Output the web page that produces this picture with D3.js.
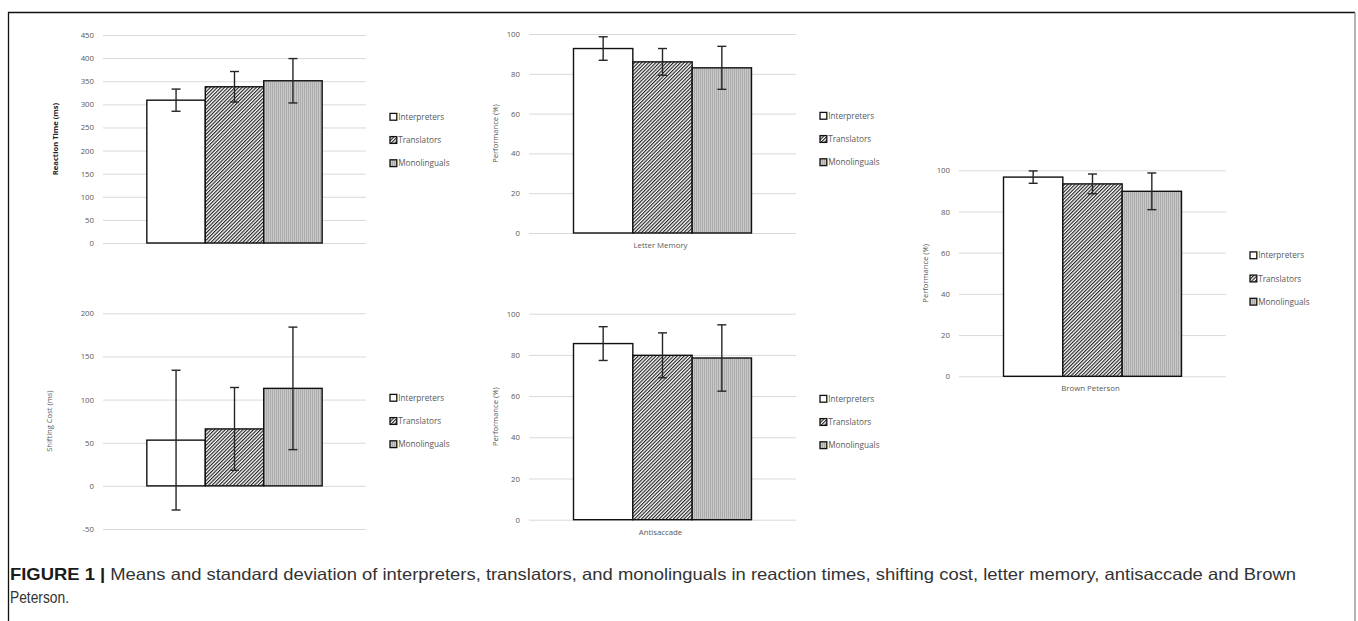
<!DOCTYPE html>
<html>
<head>
<meta charset="utf-8">
<script src="https://cdn.jsdelivr.net/npm/d3@7"></script>
<style>
  html, body { margin: 0; padding: 0; background: #fff; }
  svg { display: block; }
</style>
</head>
<body>
<svg id="chart" width="1358" height="621"></svg>
<script>
// ---------- DATA ----------
const groups = ["Interpreters", "Translators", "Monolinguals"];

const reactionMeans = [309, 338, 351];
const reactionSD    = [24, 33, 48];
const reactionTicks = [0, 50, 100, 150, 200, 250, 300, 350, 400, 450];

const shiftingMeans = [53, 66, 113];
const shiftingSD    = [81, 48, 71];
const shiftingTicks = [-50, 0, 50, 100, 150, 200];

const letterMeans = [92.7, 86.0, 83.0];
const letterSD    = [5.9, 6.7, 10.8];

const antiMeans = [85.5, 79.8, 78.5];
const antiSD    = [8.2, 10.9, 16.1];

const brownMeans = [96.7, 93.4, 89.8];
const brownSD    = [3.0, 4.8, 8.9];

const percentTicks = [0, 20, 40, 60, 80, 100];

const yTitles = ["Reaction Time (ms)", "Shifting Cost (ms)", "Performance (%)", "Performance (%)", "Performance (%)"];
const categoryLabels = ["", "", "Letter Memory", "Antisaccade", "Brown Peterson"];

const captionBold = "FIGURE 1 |";
const captionLine1 = " Means and standard deviation of interpreters, translators, and monolinguals in reaction times, shifting cost, letter memory, antisaccade and Brown";
const captionLine2 = "Peterson.";

// ---------- LAYOUT ----------
const panels = [
  { means: reactionMeans, sd: reactionSD, ticks: reactionTicks, domain: [0, 450],
    left: 103, right: 366, yTop: 35, yBottom: 243, titleX: 58, legendY: 140, titleBold: true },
  { means: shiftingMeans, sd: shiftingSD, ticks: shiftingTicks, domain: [-50, 200],
    left: 103, right: 366, yTop: 313.3, yBottom: 529, titleX: 52, legendY: 421 },
  { means: letterMeans, sd: letterSD, ticks: percentTicks, domain: [0, 100],
    left: 529, right: 796, yTop: 34, yBottom: 233, titleX: 498, legendY: 139 },
  { means: antiMeans, sd: antiSD, ticks: percentTicks, domain: [0, 100],
    left: 529, right: 796, yTop: 313.7, yBottom: 519.7, titleX: 498, legendY: 422 },
  { means: brownMeans, sd: brownSD, ticks: percentTicks, domain: [0, 100],
    left: 959, right: 1226, yTop: 170.3, yBottom: 376.3, titleX: 928, legendY: 278.5 }
];

const svg = d3.select("#chart");
const font = "'Open Sans', 'Noto Sans', sans-serif";

// ---------- PATTERNS ----------
const defs = svg.append("defs");
const hatch = defs.append("pattern")
  .attr("id", "hatch").attr("patternUnits", "userSpaceOnUse")
  .attr("width", 2.5).attr("height", 2.5)
  .attr("patternTransform", "rotate(45)");
hatch.append("rect").attr("width", 2.5).attr("height", 2.5).attr("fill", "#ffffff");
hatch.append("rect").attr("x", 0).attr("width", 1.15).attr("height", 2.5).attr("fill", "#222");

const vstripe = defs.append("pattern")
  .attr("id", "vstripe").attr("patternUnits", "userSpaceOnUse")
  .attr("width", 2).attr("height", 2);
vstripe.append("rect").attr("width", 2).attr("height", 2).attr("fill", "#c8c8c8");
vstripe.append("rect").attr("width", 1).attr("height", 2).attr("fill", "#acacac");

const fills = ["#ffffff", "url(#hatch)", "url(#vstripe)"];

// ---------- FRAME ----------
svg.append("path")
  .attr("d", "M8.5,621 L8.5,12.5 L1355,12.5")
  .attr("fill", "none").attr("stroke", "#111").attr("stroke-width", 1.3);
svg.append("line")
  .attr("x1", 1355).attr("x2", 1355).attr("y1", 12.5).attr("y2", 621)
  .attr("stroke", "#8a8a8a").attr("stroke-width", 1.3);

// ---------- PANELS ----------
panels.forEach((p, i) => {
  const g = svg.append("g");
  const y = d3.scaleLinear().domain(p.domain).range([p.yBottom, p.yTop]);
  const x = d3.scaleBand().domain(groups).range([p.left, p.right]).paddingInner(0).paddingOuter(0.75);

  // gridlines + tick labels via axis
  const axis = d3.axisLeft(y).tickValues(p.ticks).tickFormat(d => String(d))
    .tickSize(-(p.right - p.left)).tickPadding(9);
  const ag = g.append("g").attr("transform", `translate(${p.left},0)`).call(axis);
  ag.select(".domain").remove();
  ag.selectAll(".tick line").attr("stroke", "#d9d9d9").attr("stroke-width", 1);
  ag.selectAll(".tick text").attr("fill", "#595959").style("font-family", font).style("font-size", "7.8px");

  // bars
  g.selectAll("rect.bar").data(groups).enter().append("rect")
    .attr("class", "bar")
    .attr("x", d => x(d))
    .attr("width", x.bandwidth())
    .attr("y", (d, j) => Math.min(y(p.means[j]), y(0)))
    .attr("height", (d, j) => Math.abs(y(0) - y(p.means[j])))
    .attr("fill", (d, j) => fills[j])
    .attr("stroke", "#111").attr("stroke-width", 1.4);

  // error bars
  const eb = g.selectAll("g.err").data(groups).enter().append("g").attr("class", "err");
  const cx = d => x(d) + x.bandwidth() / 2;
  eb.append("line")
    .attr("x1", cx).attr("x2", cx)
    .attr("y1", (d, j) => y(p.means[j] + p.sd[j]))
    .attr("y2", (d, j) => y(p.means[j] - p.sd[j]))
    .attr("stroke", "#262626").attr("stroke-width", 1.4);
  [1, -1].forEach(s => {
    eb.append("line")
      .attr("x1", d => cx(d) - 4.5).attr("x2", d => cx(d) + 4.5)
      .attr("y1", (d, j) => y(p.means[j] + s * p.sd[j]))
      .attr("y2", (d, j) => y(p.means[j] + s * p.sd[j]))
      .attr("stroke", "#262626").attr("stroke-width", 1.4);
  });

  // y title
  const midY = (p.yTop + p.yBottom) / 2;
  g.append("text")
    .attr("transform", `translate(${p.titleX},${midY}) rotate(-90)`)
    .attr("text-anchor", "middle")
    .attr("fill", p.titleBold ? "#262626" : "#595959")
    .style("font-family", font).style("font-size", "7.6px")
    .style("font-weight", p.titleBold ? "bold" : "normal")
    .text(yTitles[i]);

  // category label
  if (categoryLabels[i]) {
    g.append("text")
      .attr("x", (p.left + p.right) / 2 - 2).attr("y", p.yBottom + 15)
      .attr("text-anchor", "middle")
      .attr("fill", "#595959")
      .style("font-family", font).style("font-size", "7.8px")
      .text(categoryLabels[i]);
  }

  // legend
  const lx = p.right + 24;
  const lg = g.selectAll("g.leg").data(groups).enter().append("g")
    .attr("transform", (d, j) => `translate(${lx},${p.legendY + (j - 1) * 23.2})`);
  lg.append("rect")
    .attr("x", 0).attr("y", -3.4).attr("width", 6.8).attr("height", 6.8)
    .attr("fill", (d, j) => fills[j])
    .attr("stroke", "#111").attr("stroke-width", 1.3);
  lg.append("text")
    .attr("x", 8.2).attr("y", 3)
    .attr("fill", "#595959")
    .style("font-family", font).style("font-size", "8.2px")
    .text(d => d);
});

// ---------- CAPTION ----------
const capFont = "'Liberation Sans', Arial, sans-serif";
const cap = svg.append("text")
  .attr("x", 10).attr("y", 580)
  .attr("textLength", 1286).attr("lengthAdjust", "spacingAndGlyphs")
  .attr("fill", "#1a1a1a")
  .style("font-family", capFont).style("font-size", "16.5px");
cap.append("tspan").style("font-weight", "bold").text(captionBold);
cap.append("tspan").attr("fill", "#333").text(captionLine1);
svg.append("text")
  .attr("x", 10).attr("y", 603)
  .attr("textLength", 59).attr("lengthAdjust", "spacingAndGlyphs")
  .attr("fill", "#333")
  .style("font-family", capFont).style("font-size", "16.5px")
  .text(captionLine2);
</script>
</body>
</html>
